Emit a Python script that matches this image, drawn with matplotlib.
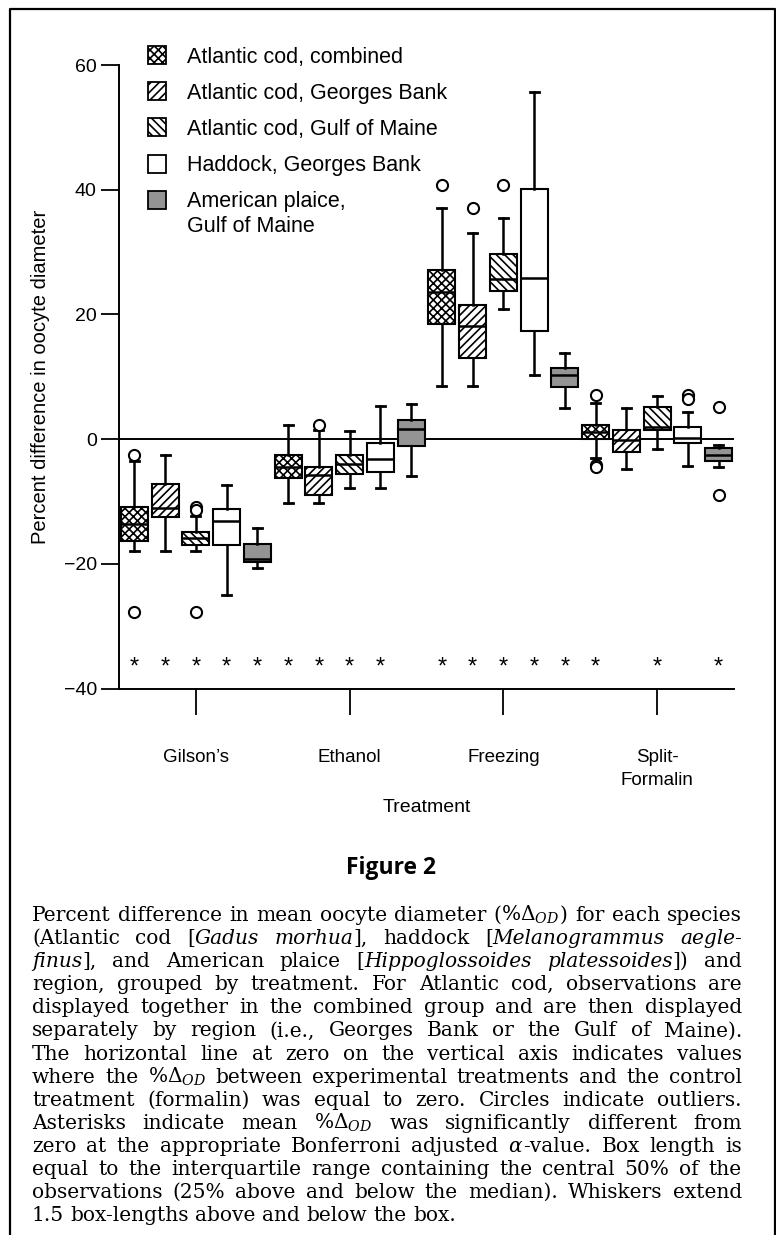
import matplotlib
matplotlib.use('Agg')
import matplotlib.pyplot as plt
from matplotlib.patches import Rectangle
from matplotlib.lines import Line2D

W, H = 776, 1235
plt.rcParams['font.family'] = ['Liberation Sans', 'DejaVu Sans']
plt.rcParams['hatch.linewidth'] = 1.2
plt.rcParams['mathtext.fontset'] = 'dejavuserif'

# ---- data ----
treatments = ["Gilson\u2019s", "Ethanol", "Freezing", "Split-\nFormalin"]
species = ["Atlantic cod, combined", "Atlantic cod, Georges Bank",
           "Atlantic cod, Gulf of Maine", "Haddock, Georges Bank",
           "American plaice,\nGulf of Maine"]

# rows = treatment, columns = species
whislo = [[-17.9, -18.0, -17.9, -24.9, -20.7],
          [-10.3, -10.3, -7.9, -7.9, -5.9],
          [8.5, 8.5, 20.8, 10.3, 5.0],
          [-3.0, -4.7, -1.6, -4.3, -4.5]]
q1 = [[-16.3, -12.5, -17.0, -17.0, -19.7],
      [-6.2, -8.9, -5.6, -5.3, -1.1],
      [18.5, 13.0, 23.8, 17.3, 8.3],
      [0.0, -2.1, 1.5, -0.6, -3.5]]
med = [[-13.6, -11.0, -15.9, -13.1, -19.2],
       [-4.4, -5.7, -4.0, -3.1, 1.6],
       [23.6, 18.2, 25.7, 25.9, 10.3],
       [1.2, -0.1, 2.0, 0.2, -2.5]]
q3 = [[-10.8, -7.1, -14.9, -11.2, -16.8],
      [-2.6, -4.5, -2.5, -0.6, 3.1],
      [27.2, 21.5, 29.7, 40.1, 11.4],
      [2.2, 1.5, 5.2, 2.0, -1.4]]
whishi = [[-3.5, -2.6, -12.3, -7.4, -14.3],
          [2.3, 1.5, 1.3, 5.3, 5.6],
          [37.0, 33.1, 35.5, 55.6, 13.8],
          [5.8, 5.0, 6.9, 4.3, -0.9]]
outliers = [[[-2.6, -27.7], [], [-10.8, -11.3, -27.7], [], []],
            [[], [2.3], [], [], []],
            [[40.8], [37.1], [40.8], [], []],
            [[7.1, -4.1, -4.5], [], [], [7.1, 6.4], [5.2, -8.9]]]
# asterisk = mean significantly different from zero
significant = [[1, 1, 1, 1, 1],
               [1, 1, 1, 1, 0],
               [1, 1, 1, 1, 1],
               [1, 0, 1, 0, 1]]

hatches = ['xxxx', '////', '\\\\\\\\', '', '']
faces = ['white', 'white', 'white', 'white', '#949494']

caption_lines = [
    r"Percent difference in mean oocyte diameter ($\%\mathit{\Delta}_{OD}$) for each species",
    r"(Atlantic cod [*Gadus morhua*], haddock [*Melanogrammus aegle-*",
    r"*finus*], and American plaice [*Hippoglossoides platessoides*]) and",
    "region, grouped by treatment. For Atlantic cod, observations are",
    "displayed together in the combined group and are then displayed",
    "separately by region (i.e., Georges Bank or the Gulf of Maine).",
    "The horizontal line at zero on the vertical axis indicates values",
    r"where the $\%\mathit{\Delta}_{OD}$ between experimental treatments and the control",
    "treatment (formalin) was equal to zero. Circles indicate outliers.",
    r"Asterisks indicate mean $\%\mathit{\Delta}_{OD}$ was significantly different from",
    r"zero at the appropriate Bonferroni adjusted $\alpha$-value. Box length is",
    "equal to the interquartile range containing the central 50% of the",
    "observations (25% above and below the median). Whiskers extend",
    "1.5 box-lengths above and below the box.",
]


def fx(px):
    return px / W


def fy(py):
    return 1 - py / H


fig = plt.figure(figsize=(W / 100, H / 100), dpi=100)
fig.patch.set_facecolor('white')

# outer frame (left, top, right)
fig.add_artist(Line2D([fx(9.5), fx(9.5), fx(774.5), fx(774.5)],
                      [0, fy(8.5), fy(8.5), 0],
                      transform=fig.transFigure, color='black', lw=1.6))

ax = fig.add_axes([fx(119), fy(688.7), fx(734) - fx(119), fy(65) - fy(688.7)])

stats, positions, sig = [], [], []
for g in range(len(treatments)):
    for s in range(len(species)):
        stats.append(dict(whislo=whislo[g][s], q1=q1[g][s], med=med[g][s],
                          q3=q3[g][s], whishi=whishi[g][s], fliers=outliers[g][s]))
        positions.append(g * len(species) + s + 1)
        sig.append(significant[g][s])

ax.axhline(0, color='black', lw=1.4, zorder=1)

bp = ax.bxp(stats, positions=positions, widths=0.88, capwidths=0.3,
            patch_artist=True, showfliers=True,
            boxprops=dict(linewidth=1.5, edgecolor='black'),
            whiskerprops=dict(linewidth=1.8, color='black'),
            capprops=dict(linewidth=2.0, color='black'),
            medianprops=dict(linewidth=1.8, color='black'),
            flierprops=dict(marker='o', markerfacecolor='white',
                            markeredgecolor='black', markersize=8,
                            markeredgewidth=1.5, zorder=4))
for i, box in enumerate(bp['boxes']):
    box.set_facecolor(faces[i % 5])
    box.set_hatch(hatches[i % 5])

for p, f in zip(positions, sig):
    if f:
        ax.text(p, -36.6, '*', ha='center', va='center', fontsize=17)

ax.set_xlim(0.5, 20.5)
ax.set_ylim(-40, 60)
ax.set_yticks([-40, -20, 0, 20, 40, 60])
ax.set_xticks([g * 5 + 3 for g in range(len(treatments))])
ax.set_xticklabels(treatments)
for lab in ax.get_xticklabels():
    lab.set_linespacing(1.45)
ax.spines['top'].set_visible(False)
ax.spines['right'].set_visible(False)
ax.spines['left'].set_linewidth(1.4)
ax.spines['bottom'].set_linewidth(1.4)
ax.tick_params(axis='y', direction='out', length=13, width=1.3, pad=3, labelsize=14)
ax.tick_params(axis='x', direction='out', length=18.5, width=1.3, pad=25, labelsize=13.5)

ax.set_ylabel('Percent difference in oocyte diameter', fontsize=14.5)
ax.yaxis.set_label_coords((40 - 119) / 615, 0.5)
ax.yaxis.label.set_va('center')
ax.set_xlabel('Treatment', fontsize=14)
ax.xaxis.set_label_coords(0.5, (688.7 - 807) / 623.7)
ax.xaxis.label.set_va('center')

# legend drawn by hand inside the plot area
leg_fs = 15.5
for k, lab in enumerate(species):
    yc = 55 + 36.2 * k
    nl = lab.count('\n')
    fig.add_artist(Rectangle((fx(148), fy(yc + 9)), fx(18), 18 / H,
                             transform=fig.transFigure, facecolor=faces[k],
                             hatch=hatches[k], edgecolor='black', lw=1.3))
    fig.text(fx(187), fy(yc + 7.7 + 24 * nl), lab, fontsize=leg_fs,
             va='baseline', ha='left')

fig.text(fx(391), fy(868), 'Figure 2', family=['Open Sans', 'DejaVu Sans'],
         weight='bold', fontsize=16.5, ha='center', va='center')


# ---- justified caption ----
def parse_line(line):
    words, cur, buf = [], [], ''
    italic = False
    i = 0
    while i < len(line):
        ch = line[i]
        if ch == '$':
            j = line.index('$', i + 1)
            if buf:
                cur.append((buf, italic))
                buf = ''
            cur.append((line[i:j + 1], False))
            i = j + 1
            continue
        if ch == '*':
            if buf:
                cur.append((buf, italic))
                buf = ''
            italic = not italic
        elif ch == ' ':
            if buf:
                cur.append((buf, italic))
                buf = ''
            if cur:
                words.append(cur)
                cur = []
        else:
            buf += ch
        i += 1
    if buf:
        cur.append((buf, italic))
    if cur:
        words.append(cur)
    return words


renderer = fig.canvas.get_renderer()
cap_left, cap_right = 32, 742
cap_fs = 13.0
serif = ['DejaVu Serif']

parsed = [parse_line(l) for l in caption_lines]
items = []
for words in parsed:
    wl = []
    for word in words:
        segs = []
        for txt, it in word:
            t = fig.text(0, 0, txt, fontsize=cap_fs, family=serif,
                         style='italic' if it else 'normal', va='baseline')
            segs.append(t)
        wl.append(segs)
    items.append(wl)


def seg_width(t):
    return t.get_window_extent(renderer).width


space = 0.318 * cap_fs * 100 / 72
nat = []
for wl in items:
    ww = [sum(seg_width(t) for t in segs) for segs in wl]
    nat.append(sum(ww) + space * (len(ww) - 1))
scale = min(15.0 / 13.0, (cap_right - cap_left) * 0.985 / max(nat))
cap_fs *= scale
space *= scale
for wl in items:
    for segs in wl:
        for t in segs:
            t.set_fontsize(cap_fs)

for li, wl in enumerate(items):
    base = 921 + 23.1 * li
    ww = [sum(seg_width(t) for t in segs) for segs in wl]
    if li < len(items) - 1 and len(ww) > 1:
        gap = (cap_right - cap_left - sum(ww)) / (len(ww) - 1)
    else:
        gap = space
    x = cap_left
    for segs, w in zip(wl, ww):
        xs = x
        for t in segs:
            t.set_position((fx(xs), fy(base)))
            xs += seg_width(t)
        x += w + gap

fig.savefig('out.png', dpi=100, facecolor='white')
